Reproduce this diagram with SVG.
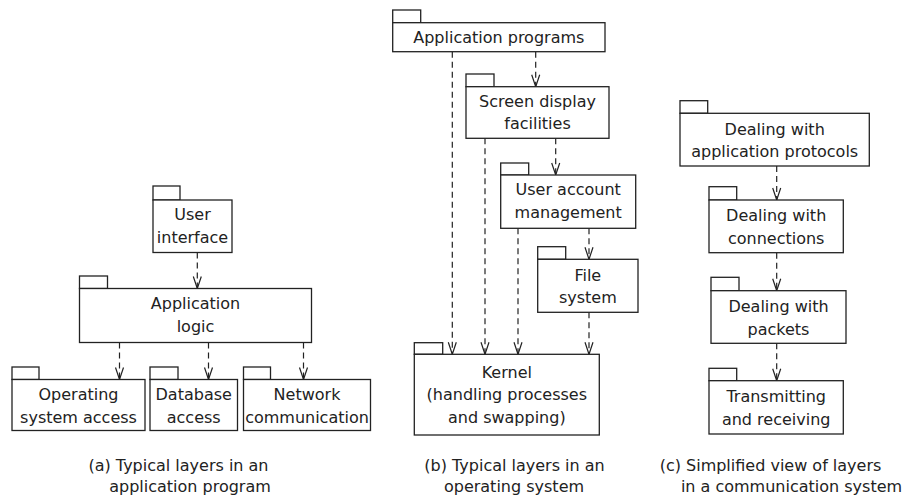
<svg xmlns="http://www.w3.org/2000/svg" width="906" height="501" viewBox="0 0 906 501">
<style>
.tab,.box{fill:#fff;stroke:#222;stroke-width:1.3}
.lbl{font-family:"DejaVu Sans",sans-serif;font-size:16px;fill:#222;text-anchor:middle}
.dep{fill:none;stroke:#222;stroke-width:1.2;stroke-dasharray:6 4;marker-end:url(#v)}
</style>
<defs>
<marker id="v" viewBox="-13 -6 14 12" markerWidth="14" markerHeight="12" markerUnits="userSpaceOnUse" refX="0" refY="0" orient="auto">
<path d="M-12,-4 L0,0 L-12,4" fill="none" stroke="#222" stroke-width="1.2" stroke-dasharray="none"/>
</marker>
</defs>
<rect width="906" height="501" fill="#fff"/>

<g id="connectors">
<line class="dep" x1="197.3" y1="252.5" x2="197.3" y2="288.5"/>
<line class="dep" x1="119.5" y1="342.5" x2="119.5" y2="379.5"/>
<line class="dep" x1="208.5" y1="342.5" x2="208.5" y2="379.5"/>
<line class="dep" x1="303.5" y1="342.5" x2="303.5" y2="379.5"/>

<line class="dep" x1="535.7" y1="51.7" x2="535.7" y2="86.7"/>
<line class="dep" x1="555.7" y1="138.3" x2="555.7" y2="175"/>
<line class="dep" x1="589" y1="228.3" x2="589" y2="259.3"/>
<line class="dep" x1="452.3" y1="51.7" x2="452.3" y2="354.3"/>
<line class="dep" x1="485" y1="138.3" x2="485" y2="354.3"/>
<line class="dep" x1="518" y1="228.3" x2="518" y2="354.3"/>
<line class="dep" x1="589" y1="312.3" x2="589" y2="354.3"/>

<line class="dep" x1="776.7" y1="166" x2="776.7" y2="200"/>
<line class="dep" x1="776.7" y1="252.7" x2="776.7" y2="290.7"/>
<line class="dep" x1="776.7" y1="343.3" x2="776.7" y2="380.7"/>
</g>

<g id="user-interface">
<rect class="tab" x="153" y="186" width="27" height="14"/>
<rect class="box" x="153" y="200" width="79" height="52.5"/>
<text class="lbl" x="192.5" y="219.5">User</text>
<text class="lbl" x="192.5" y="243">interface</text>
</g>
<g id="application-logic">
<rect class="tab" x="79.5" y="276" width="28" height="12.5"/>
<rect class="box" x="79.5" y="288.5" width="232" height="54"/>
<text class="lbl" x="195.5" y="308.5">Application</text>
<text class="lbl" x="195.5" y="331.5">logic</text>
</g>
<g id="os-access">
<rect class="tab" x="12" y="367" width="27" height="12.5"/>
<rect class="box" x="12" y="379.5" width="133" height="51"/>
<text class="lbl" x="78.5" y="400">Operating</text>
<text class="lbl" x="78.5" y="422.5">system access</text>
</g>
<g id="database-access">
<rect class="tab" x="150" y="367" width="28" height="12.5"/>
<rect class="box" x="150" y="379.5" width="87.5" height="51"/>
<text class="lbl" x="193.7" y="400">Database</text>
<text class="lbl" x="193.7" y="422.5">access</text>
</g>
<g id="network-communication">
<rect class="tab" x="243.5" y="367" width="27" height="12.5"/>
<rect class="box" x="243.5" y="379.5" width="127" height="51"/>
<text class="lbl" x="307" y="400">Network</text>
<text class="lbl" x="307" y="422.5">communication</text>
</g>

<g id="application-programs">
<rect class="tab" x="392.7" y="10" width="28" height="12.7"/>
<rect class="box" x="392.7" y="22.7" width="212.3" height="29"/>
<text class="lbl" x="498.8" y="42.5">Application programs</text>
</g>
<g id="screen-display">
<rect class="tab" x="466" y="74" width="28" height="12.7"/>
<rect class="box" x="466" y="86.7" width="143" height="51.6"/>
<text class="lbl" x="537.5" y="106.5">Screen display</text>
<text class="lbl" x="537.5" y="129">facilities</text>
</g>
<g id="user-account">
<rect class="tab" x="500.7" y="163" width="28" height="12"/>
<rect class="box" x="500.7" y="175" width="135" height="53.3"/>
<text class="lbl" x="568.2" y="195">User account</text>
<text class="lbl" x="568.2" y="218">management</text>
</g>
<g id="file-system">
<rect class="tab" x="537.7" y="246.7" width="28" height="12.6"/>
<rect class="box" x="537.7" y="259.3" width="100.3" height="53"/>
<text class="lbl" x="587.8" y="280.5">File</text>
<text class="lbl" x="587.8" y="303">system</text>
</g>
<g id="kernel">
<rect class="tab" x="414.3" y="342.7" width="28.4" height="11.6"/>
<rect class="box" x="414.3" y="354.3" width="185" height="80.7"/>
<text class="lbl" x="506.8" y="378">Kernel</text>
<text class="lbl" x="506.8" y="400">(handling processes</text>
<text class="lbl" x="506.8" y="422.5">and swapping)</text>
</g>

<g id="application-protocols">
<rect class="tab" x="680" y="100.7" width="27.7" height="12.6"/>
<rect class="box" x="680" y="113.3" width="189.3" height="52.7"/>
<text class="lbl" x="774.7" y="134.5">Dealing with</text>
<text class="lbl" x="774.7" y="157">application protocols</text>
</g>
<g id="connections">
<rect class="tab" x="709" y="186.7" width="27.7" height="13.3"/>
<rect class="box" x="709" y="200" width="134.3" height="52.7"/>
<text class="lbl" x="776.2" y="221">Dealing with</text>
<text class="lbl" x="776.2" y="244">connections</text>
</g>
<g id="packets">
<rect class="tab" x="711" y="277.3" width="28" height="13.4"/>
<rect class="box" x="711" y="290.7" width="135" height="52.6"/>
<text class="lbl" x="778.5" y="311.5">Dealing with</text>
<text class="lbl" x="778.5" y="334.5">packets</text>
</g>
<g id="transmitting">
<rect class="tab" x="709" y="368.3" width="27.7" height="12.4"/>
<rect class="box" x="709" y="380.7" width="134.3" height="53.3"/>
<text class="lbl" x="776.2" y="402">Transmitting</text>
<text class="lbl" x="776.2" y="425">and receiving</text>
</g>

<g id="captions">
<text class="lbl" x="178.5" y="471">(a) Typical layers in an</text>
<text class="lbl" x="190" y="492">application program</text>
<text class="lbl" x="514.5" y="471">(b) Typical layers in an</text>
<text class="lbl" x="514" y="492">operating system</text>
<text class="lbl" x="770.5" y="471">(c) Simplified view of layers</text>
<text class="lbl" x="791.5" y="492">in a communication system</text>
</g>
</svg>
